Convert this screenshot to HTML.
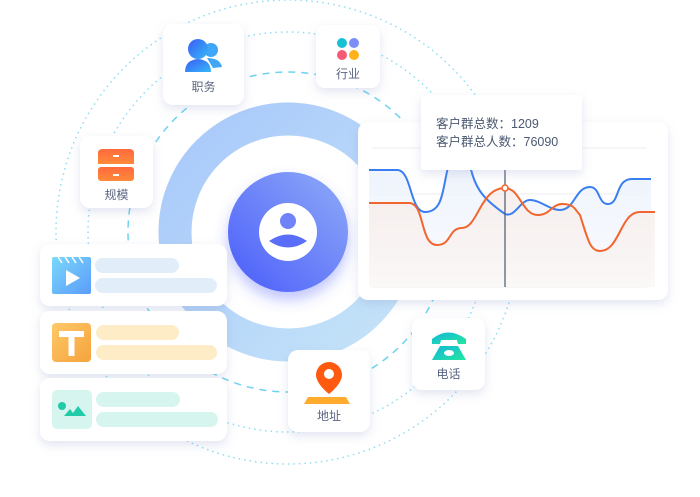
<!DOCTYPE html>
<html><head><meta charset="utf-8"><style>
body{margin:0;width:700px;height:497px;overflow:hidden;background:#fff;font-family:"Liberation Sans","Noto Sans CJK SC",sans-serif}
svg{position:absolute;left:0;top:0}
</style></head><body>
<svg width="700" height="497" viewBox="0 0 700 497" xmlns="http://www.w3.org/2000/svg">
<defs>
<linearGradient id="ring" x1="0" y1="0" x2="1" y2="1"><stop offset="0" stop-color="#a8c8fb"/><stop offset="1" stop-color="#c5e4f8"/></linearGradient>
<linearGradient id="core" x1="1" y1="0" x2="0" y2="1"><stop offset="0" stop-color="#8fabf7"/><stop offset="1" stop-color="#4a5cfb"/></linearGradient>
<linearGradient id="blue" x1="0" y1="0" x2="1" y2="1"><stop offset="0" stop-color="#3a5cf5"/><stop offset="1" stop-color="#36b8f8"/></linearGradient>
<linearGradient id="org" x1="0" y1="0" x2="0" y2="1"><stop offset="0" stop-color="#ff6a3d"/><stop offset="1" stop-color="#ff8a3a"/></linearGradient>
<linearGradient id="grn" x1="0" y1="0" x2="1" y2="1"><stop offset="0" stop-color="#14b6d8"/><stop offset="1" stop-color="#24e8a0"/></linearGradient>
<linearGradient id="vid" x1="0" y1="0" x2="1" y2="1"><stop offset="0" stop-color="#7ad8fa"/><stop offset="1" stop-color="#5b9cfa"/></linearGradient>
<linearGradient id="tt" x1="0" y1="0" x2="1" y2="1"><stop offset="0" stop-color="#ffc868"/><stop offset="1" stop-color="#f5a33d"/></linearGradient>
<linearGradient id="bfill" x1="0" y1="0" x2="0" y2="1"><stop offset="0" stop-color="#e8f0fc"/><stop offset="1" stop-color="#f8f9fd"/></linearGradient>
<linearGradient id="ofill" x1="0" y1="0" x2="0" y2="1"><stop offset="0" stop-color="#f6ebe8"/><stop offset="1" stop-color="#fbf7f6"/></linearGradient>
<filter id="sh" x="-30%" y="-30%" width="160%" height="170%"><feDropShadow dx="0" dy="4" stdDeviation="5" flood-color="#7c88c0" flood-opacity="0.22"/></filter>
<filter id="sh2" x="-30%" y="-30%" width="160%" height="170%"><feDropShadow dx="0" dy="8" stdDeviation="7" flood-color="#4a5cfb" flood-opacity="0.35"/></filter>
</defs>
<circle cx="288" cy="232" r="232" fill="none" stroke="#8fdcf5" stroke-width="1.5" stroke-dasharray="1.5 4"/>
<circle cx="288" cy="232" r="200" fill="none" stroke="#8fdcf5" stroke-width="1.5" stroke-dasharray="1.5 4"/>
<circle cx="288" cy="232" r="160" fill="none" stroke="#6cd3f2" stroke-width="1.5" stroke-dasharray="7 6"/>
<circle cx="288" cy="232" r="113" fill="none" stroke="url(#ring)" stroke-width="33"/>
<circle cx="288" cy="232" r="60" fill="url(#core)" filter="url(#sh2)"/>
<circle cx="288" cy="232" r="29" fill="#fff"/>
<circle cx="288" cy="221" r="8" fill="#6f82f8"/>
<path d="M269 241 Q288 228 307 241 Q288 254 269 241Z" fill="#5a6ef9"/>

<g filter="url(#sh)" fill="#fff">
<rect x="163" y="24" width="81" height="81" rx="10"/>
<rect x="316" y="25" width="64" height="63" rx="9"/>
<rect x="80" y="136" width="73" height="72" rx="10"/>
<rect x="288" y="350" width="82" height="82" rx="10"/>
<rect x="412" y="318" width="73" height="72" rx="10"/>
</g>
<!-- 职务 icon -->
<circle cx="211" cy="50" r="7" fill="#3fa6f8"/>
<path d="M207 58 Q220 58 222 67 L213 68Z" fill="#3fa6f8"/>
<circle cx="198" cy="49" r="10" fill="url(#blue)"/>
<path d="M185 72 Q185 60 198 59 Q211 60 211 72Z" fill="url(#blue)"/>
<text x="203.5" y="91" font-size="12" fill="#5b6580" text-anchor="middle">职务</text>
<!-- 行业 -->
<circle cx="342" cy="43" r="5" fill="#17c1d4"/><circle cx="354" cy="43" r="5" fill="#7b8ff7"/>
<circle cx="342" cy="55" r="5" fill="#f55a74"/><circle cx="354" cy="55" r="5" fill="#ffb21a"/>
<text x="348" y="78" font-size="12" fill="#5b6580" text-anchor="middle">行业</text>
<!-- 规模 -->
<path d="M98 164 L98 153 Q98 149 103 149 L129 149 Q134 149 134 153 L134 164Z" fill="url(#org)"/>
<rect x="98" y="167" width="36" height="14" rx="3" fill="url(#org)"/>
<rect x="113" y="155" width="6" height="2" fill="#fff"/><rect x="113" y="174" width="6" height="2" fill="#fff"/>
<text x="116.5" y="199" font-size="12" fill="#5b6580" text-anchor="middle">规模</text>
<!-- 地址 -->
<path d="M308 397 L346 397 L350 404 L304 404Z" fill="#ffab2e"/>
<path d="M329 362 a13 13 0 0 1 13 13 c0 9 -13 19 -13 19 c0 0 -13 -10 -13 -19 a13 13 0 0 1 13 -13Z" fill="#ff5a10"/>
<circle cx="329" cy="374" r="5" fill="#fff"/>
<text x="329" y="420" font-size="12" fill="#5b6580" text-anchor="middle">地址</text>
<!-- 电话 -->
<path d="M432 339 Q448 326 466 339 L466 344 L458 344 L457 340 L441 340 L440 344 L432 344Z" fill="url(#grn)"/>
<path d="M440 346 L458 346 L466 360 L432 360Z" fill="url(#grn)"/>
<ellipse cx="449" cy="353" rx="5" ry="3" fill="#fff"/>
<text x="448.5" y="378" font-size="12" fill="#5b6580" text-anchor="middle">电话</text>

<g filter="url(#sh)" fill="#fff">
<rect x="40" y="244" width="187" height="62" rx="10"/>
<rect x="40" y="311" width="187" height="63" rx="10"/>
<rect x="40" y="378" width="187" height="63" rx="10"/>
</g>
<rect x="52" y="257" width="39" height="37" rx="2" fill="url(#vid)"/>
<path d="M58 257 l4 6 M65 257 l4 6 M72 257 l4 6 M79 257 l4 6" stroke="#fff" stroke-width="1.5"/>
<path d="M66 270 L80 278 L66 286Z" fill="#fff"/>
<rect x="95" y="258" width="84" height="15" rx="7.5" fill="#e1eefa"/>
<rect x="95" y="278" width="122" height="15" rx="7.5" fill="#e1eefa"/>
<rect x="52" y="323" width="39" height="39" rx="4" fill="url(#tt)"/>
<path d="M59 331 h25 v6 h-9.5 v19 h-6 v-19 h-9.5Z" fill="#fff"/>
<rect x="96" y="325" width="83" height="15" rx="7.5" fill="#fdecc6"/>
<rect x="96" y="345" width="121" height="15" rx="7.5" fill="#fdecc6"/>
<rect x="52" y="390" width="40" height="39" rx="5" fill="#d6f5ee"/>
<circle cx="62" cy="406" r="4" fill="#1fcba8"/>
<path d="M64 416 L70 409 L73 413 L78 406 L86 416Z" fill="#1fcba8"/>
<rect x="96" y="392" width="84" height="15" rx="7.5" fill="#d5f5ee"/>
<rect x="96" y="412" width="122" height="15" rx="7.5" fill="#d5f5ee"/>

<rect x="358" y="122" width="310" height="178" rx="10" fill="#fff" filter="url(#sh)"/>
<g stroke="#eceef2" stroke-width="1">
<line x1="372" y1="148" x2="647" y2="148"/><line x1="372" y1="194" x2="647" y2="194"/><line x1="372" y1="241" x2="647" y2="241"/><line x1="372" y1="287" x2="647" y2="287"/>
</g>
<path d="M369 170 L398 170 C412 172 410 212 425 212 C445 212 442 185 450 160 C455 130 462 135 470 165 C475 190 485 200 505 214 C515 218 520 200 530 200 C540 200 550 210 560 210 C575 210 575 187 590 187 C600 187 598 204 608 204 C620 204 615 179 632 179 L651 179 L651 287 L369 287Z" fill="url(#bfill)" opacity="0.8"/>
<path d="M369 203 L410 203 C425 205 420 245 437 245 C452 245 448 228 462 228 C478 228 480 188 505 188 C520 188 522 215 538 215 C550 215 552 204 562 204 C575 204 575 210 580 215 C588 240 590 251 600 251 C620 251 620 212 640 212 L655 212 L655 287 L369 287Z" fill="url(#ofill)" opacity="0.8"/>
<path d="M369 170 L398 170 C412 172 410 212 425 212 C445 212 442 185 450 160 C455 130 462 135 470 165 C475 190 485 200 505 214 C515 218 520 200 530 200 C540 200 550 210 560 210 C575 210 575 187 590 187 C600 187 598 204 608 204 C620 204 615 179 632 179 L651 179" fill="none" stroke="#3a7ef2" stroke-width="2"/>
<path d="M369 203 L410 203 C425 205 420 245 437 245 C452 245 448 228 462 228 C478 228 480 188 505 188 C520 188 522 215 538 215 C550 215 552 204 562 204 C575 204 575 210 580 215 C588 240 590 251 600 251 C620 251 620 212 640 212 L655 212" fill="none" stroke="#f2652e" stroke-width="2"/>
<line x1="505" y1="160" x2="505" y2="287" stroke="#4a5870" stroke-width="1.2"/>
<circle cx="505" cy="188" r="3" fill="#fff" stroke="#f2652e" stroke-width="1.5"/>
<rect x="421" y="95" width="161" height="75" rx="3" fill="#fff" filter="url(#sh)"/>
<text x="436" y="128" font-size="12.5" fill="#4a5870">客户群总数：1209</text>
<text x="436" y="146" font-size="12.5" fill="#4a5870">客户群总人数：76090</text>
</svg>
</body></html>
